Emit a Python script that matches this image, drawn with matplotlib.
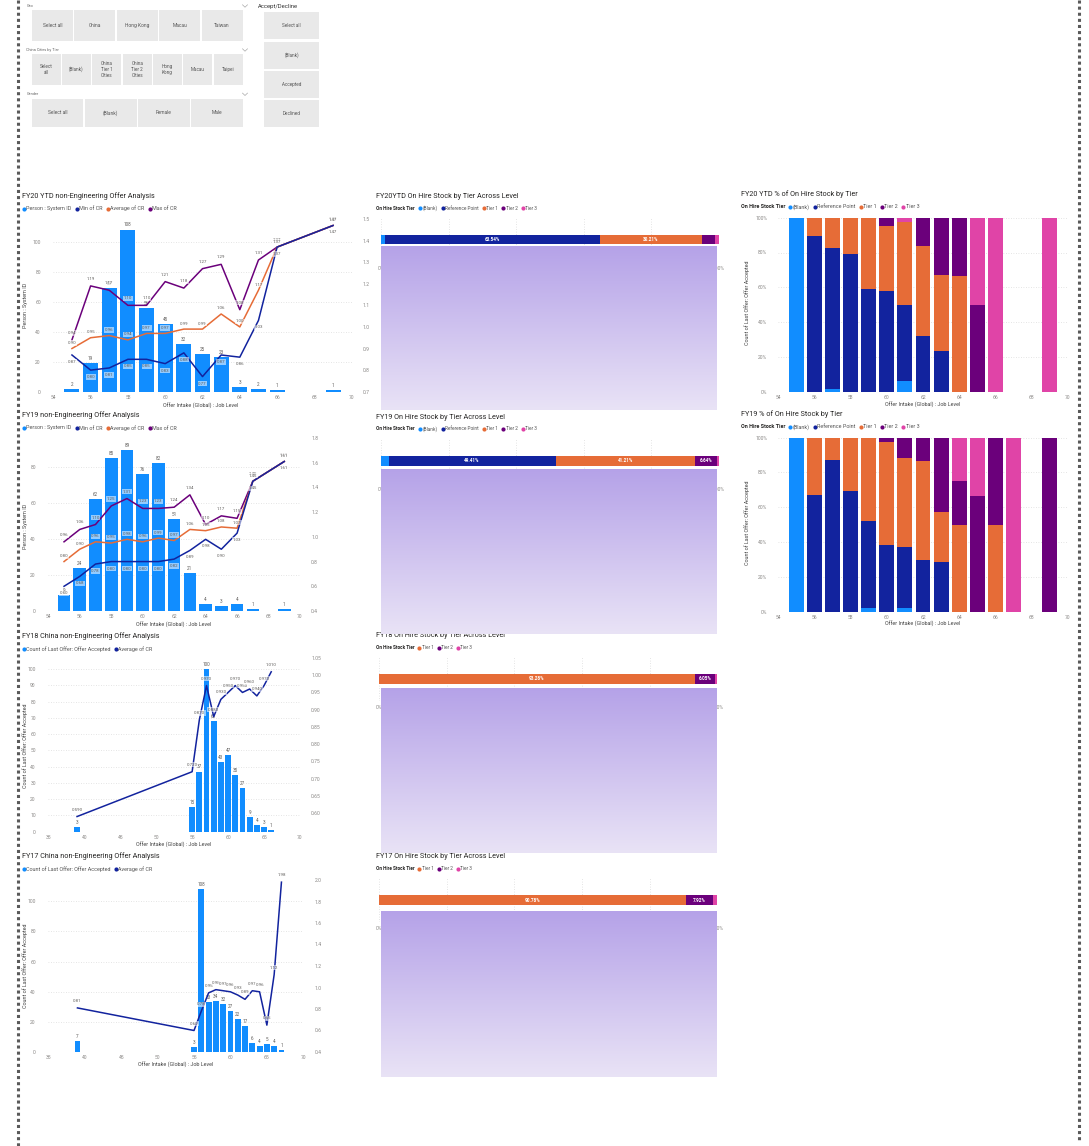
import numpy as np
import matplotlib
matplotlib.use("Agg")
import matplotlib.pyplot as plt
from matplotlib.patches import Rectangle

plt.rcParams['font.family'] = ['Roboto', 'DejaVu Sans']

W, H = 1089, 1146
DPI = 100

# ---------------- slicer options ----------------
geo_options = ["Select all", "China", "Hong Kong", "Macau", "Taiwan"]
city_options = ["Select\nall", "(Blank)", "China\nTier 1\nCities", "China\nTier 2\nCities",
                "Hong\nKong", "Macau", "Taipei"]
gender_options = ["Select all", "(Blank)", "Female", "Male"]
accept_options = ["Select all", "(Blank)", "Accepted", "Declined"]

# ---------------- FY20 YTD offer analysis ----------------
fy20_levels = [55, 56, 57, 58, 59, 60, 61, 62, 63, 64, 65, 66, 69]
fy20_count = [2, 19, 69, 108, 56, 45, 32, 25, 23, 3, 2, 1, 1]
fy20_min = [0.87, 0.80, 0.81, 0.85, 0.85, 0.83, 0.88, 0.77, 0.87, 0.86, 1.03, 1.37, 1.47]
fy20_avg = [0.90, 0.95, 0.96, 0.94, 0.97, 0.97, 0.99, 0.99, 1.06, 1.00, 1.17, 1.37, 1.47]
fy20_max = [0.94, 1.19, 1.17, 1.10, 1.10, 1.21, 1.18, 1.27, 1.29, 1.08, 1.31, 1.37, 1.47]

# ---------------- FY19 offer analysis ----------------
fy19_levels = [55, 56, 57, 58, 59, 60, 61, 62, 63, 64, 65, 66, 67, 69]
fy19_count = [9, 24, 62, 85, 89, 76, 82, 51, 21, 4, 3, 4, 1, 1]
fy19_min = [0.60, 0.68, 0.78, 0.80, 0.80, 0.80, 0.80, 0.82, 0.89, 0.98, 0.90, 1.03, 1.45, 1.61]
fy19_avg = [0.80, 0.90, 0.96, 0.95, 0.98, 0.96, 0.99, 0.97, 1.06, 1.05, 1.08, 1.07, 1.45, 1.61]
fy19_max = [0.96, 1.06, 1.10, 1.25, 1.31, 1.23, 1.23, 1.24, 1.34, 1.10, 1.17, 1.15, 1.45, 1.61]

# ---------------- FY18 China offer analysis ----------------
fy18_levels = [39, 55, 56, 57, 58, 59, 60, 61, 62, 63, 64, 65, 66]
fy18_count = [3, 15, 37, 100, 68, 43, 47, 35, 27, 9, 4, 3, 1]
fy18_avg = [0.59, 0.72, 0.87, 0.97, 0.88, 0.93, 0.95, 0.97, 0.95, 0.96, 0.94, 0.97, 1.01]

# ---------------- FY17 China offer analysis ----------------
fy17_levels = [39, 55, 56, 57, 58, 59, 60, 61, 62, 63, 64, 65, 66, 67]
fy17_count = [7, 3, 108, 33, 34, 32, 27, 22, 17, 6, 4, 5, 4, 1]
fy17_avg = [0.81, 0.60, 0.78, 0.95, 0.98, 0.97, 0.96, 0.93, 0.89, 0.97, 0.96, 0.65, 1.12, 1.98]

# ---------------- On hire stock tier shares (%) ----------------
tiers_all = ["(Blank)", "Reference Point", "Tier 1", "Tier 2", "Tier 3"]
tiers_short = ["Tier 1", "Tier 2", "Tier 3"]
stock_fy20 = [1.20, 63.54, 30.21, 3.85, 1.20]
stock_fy19 = [2.25, 49.41, 41.21, 6.64, 0.49]
stock_fy18 = [93.28, 6.05, 0.67]
stock_fy17 = [90.78, 7.92, 1.30]

# ---------------- % of on hire stock by tier per level ----------------
pct20_levels = [55, 56, 57, 58, 59, 60, 61, 62, 63, 64, 65, 66, 69]
pct20_blank = [100, 0, 1.4, 0, 0, 0, 6.1, 0, 0, 0, 0, 0, 0]
pct20_ref = [0, 89.5, 81.2, 78.9, 59.0, 57.9, 43.7, 32.0, 23.6, 0, 0, 0, 0]
pct20_t1 = [0, 10.5, 17.4, 21.1, 41.0, 37.5, 47.5, 51.9, 43.4, 66.7, 0, 0, 0]
pct20_t2 = [0, 0, 0, 0, 0, 4.6, 0, 16.1, 33.0, 33.3, 50, 0, 0]
pct20_t3 = [0, 0, 0, 0, 0, 0, 2.7, 0, 0, 0, 50, 100, 100]

pct19_levels = [55, 56, 57, 58, 59, 60, 61, 62, 63, 64, 65, 66, 67, 69]
pct19_blank = [100, 0, 0, 0, 1.9, 0, 1.9, 0, 0, 0, 0, 0, 0, 0]
pct19_ref = [0, 67.0, 87.2, 69.5, 50.2, 38.3, 35.1, 29.7, 28.7, 0, 0, 0, 0, 0]
pct19_t1 = [0, 33.0, 12.8, 30.5, 47.9, 59.4, 51.1, 56.9, 28.8, 50, 0, 50, 0, 0]
pct19_t2 = [0, 0, 0, 0, 0, 2.3, 11.9, 13.4, 42.5, 25, 66.7, 50, 0, 100]
pct19_t3 = [0, 0, 0, 0, 0, 0, 0, 0, 0, 25, 33.3, 0, 100, 0]

# ---------------- colours ----------------
C_BLUE = "#118DFF"
C_NAVY = "#12239E"
C_ORANGE = "#E66C37"
C_PURPLE = "#6B007B"
C_PINK = "#E044A7"
TIER_COLORS = [C_BLUE, C_NAVY, C_ORANGE, C_PURPLE, C_PINK]
TIER_SHORT_COLORS = [C_ORANGE, C_PURPLE, C_PINK]
TITLE = "#252423"
TICK = "#8a8886"
LBL = "#605E5C"
GRID = "#dcdcdc"

fig = plt.figure(figsize=(W / DPI, H / DPI), dpi=DPI)
fig.patch.set_facecolor("white")


def px_axes(x0, y0, x1, y1, **kw):
    return fig.add_axes([x0 / W, 1 - y1 / H, (x1 - x0) / W, (y1 - y0) / H], **kw)


def clean(ax):
    for s in ax.spines.values():
        s.set_visible(False)
    ax.tick_params(length=0, labelsize=3.6, colors=TICK)


def combo(box, xlim, xticks, ylim, yticks, y2lim, y2ticks, y2fmt,
          levels, counts, lines, fmt):
    ax = px_axes(*box)
    clean(ax)
    ax.set_xlim(*xlim)
    ax.set_ylim(*ylim)
    ax.set_xticks(xticks)
    ax.set_yticks(yticks)
    ax.tick_params(axis="y", pad=9)
    ax.tick_params(axis="x", pad=2.5)
    ax.grid(axis="y", color=GRID, linestyle=(0, (1, 2)), linewidth=0.6)
    ax.set_axisbelow(True)
    ax.bar(levels, counts, width=0.8, color=C_BLUE, zorder=2)
    for x, c in zip(levels, counts):
        ax.text(x, c + ylim[1] * 0.012, str(c), ha="center", va="bottom",
                fontsize=3.3, color=LBL, zorder=3)
    ax2 = ax.twinx()
    clean(ax2)
    ax2.set_ylim(*y2lim)
    ax2.set_yticks(y2ticks)
    ax2.set_yticklabels([y2fmt.format(v) for v in y2ticks])
    ax2.tick_params(axis="y", pad=8)
    for vals, col, dy in lines:
        ax2.plot(levels, vals, color=col, lw=1.1, zorder=3)
        for x, v in zip(levels, vals):
            ax2.annotate(fmt.format(v), (x, v), xytext=(0, dy), textcoords="offset points",
                         ha="center", va="center", fontsize=3.2, color=LBL, zorder=4,
                         bbox=dict(boxstyle="square,pad=0.15", fc="white", ec="none", alpha=0.55))
    return ax, ax2


def pct_chart(box, levels, stacks):
    ax = px_axes(*box)
    clean(ax)
    ax.set_xlim(54, 70)
    ax.set_ylim(0, 100)
    ax.set_xticks(range(54, 71, 2))
    ax.set_yticks(range(0, 101, 20))
    ax.set_yticklabels([f"{v}%" for v in range(0, 101, 20)])
    ax.tick_params(axis="y", pad=8)
    ax.tick_params(axis="x", pad=2.5)
    ax.grid(axis="y", color=GRID, linestyle=(0, (1, 2)), linewidth=0.6)
    ax.set_axisbelow(True)
    bottom = np.zeros(len(levels))
    for arr, col in zip(stacks, TIER_COLORS):
        arr = np.array(arr, dtype=float)
        ax.bar(levels, arr, bottom=bottom, width=0.82, color=col, zorder=2)
        bottom += arr
    return ax


def stock_bar(x0, x1, yc, values, colors):
    ax = px_axes(x0, yc - 22, x1, yc + 22)
    clean(ax)
    ax.set_facecolor("none")
    ax.set_xlim(0, 100)
    ax.set_ylim(44, 0)
    ax.set_yticks([])
    ax.set_xticks(range(0, 101, 20))
    ax.set_xticklabels([f"{v}%" for v in range(0, 101, 20)])
    ax.tick_params(axis="x", pad=3)
    ax.grid(axis="x", color=GRID, linestyle=(0, (1, 2)), linewidth=0.6)
    ax.set_axisbelow(True)
    left = 0.0
    for v, col in zip(values, colors):
        ax.barh(22, v, left=left, height=9.4, color=col, zorder=2)
        if v >= 5:
            ax.text(left + v / 2, 22, f"{v:.2f}%", ha="center", va="center",
                    fontsize=3.3, color="white", fontweight="bold", zorder=3)
        left += v
    return ax


# ---------------- left combo charts ----------------
combo((53.3, 219, 351.7, 391.7), (54, 70), range(54, 71, 2), (0, 115), range(0, 101, 20),
      (0.7, 1.5), np.arange(0.7, 1.51, 0.1), "{:.1f}",
      fy20_levels, fy20_count,
      [(fy20_max, C_PURPLE, 5), (fy20_avg, C_ORANGE, 4), (fy20_min, C_NAVY, -5)], "{:.2f}")

combo((48.3, 438, 300, 611), (54, 70), range(54, 71, 2), (0, 95.9), range(0, 81, 20),
      (0.4, 1.8), np.arange(0.4, 1.81, 0.2), "{:.1f}",
      fy19_levels, fy19_count,
      [(fy19_max, C_PURPLE, 5), (fy19_avg, C_ORANGE, 4), (fy19_min, C_NAVY, -5)], "{:.2f}")

combo((48.3, 653, 300, 831.7), (35, 70), range(35, 71, 5), (0, 110), range(0, 101, 10),
      (0.546, 1.0645), np.arange(0.60, 1.051, 0.05), "{:.2f}",
      fy18_levels, fy18_count, [(fy18_avg, C_NAVY, 5)], "{:.3f}")

combo((48.3, 880, 303.3, 1052), (35, 70), range(35, 71, 5), (0, 114.1), range(0, 101, 20),
      (0.4, 2.0), np.arange(0.4, 2.01, 0.2), "{:.1f}",
      fy17_levels, fy17_count, [(fy17_avg, C_NAVY, 5)], "{:.2f}")

# ---------------- right % charts ----------------
pct_chart((778.3, 217.7, 1067.7, 391.7), pct20_levels,
          [pct20_blank, pct20_ref, pct20_t1, pct20_t2, pct20_t3])
pct_chart((778.3, 437.7, 1067.7, 611.7), pct19_levels,
          [pct19_blank, pct19_ref, pct19_t1, pct19_t2, pct19_t3])

# ---------------- middle stacked bars ----------------
stock_bar(381, 719, 239.6, stock_fy20, TIER_COLORS)
stock_bar(381, 719, 460.8, stock_fy19, TIER_COLORS)
stock_bar(379, 717.3, 679.0, stock_fy18, TIER_SHORT_COLORS)
stock_bar(379, 717.3, 900.0, stock_fy17, TIER_SHORT_COLORS)

# ---------------- overlay (texts, slicers, gradients, borders) ----------------
ov = fig.add_axes([0, 0, 1, 1], zorder=10)
ov.patch.set_visible(False)
ov.axis("off")
renderer = fig.canvas.get_renderer()

# borders
ov.plot([18, 18], [0, H], color="#5a5a5a", lw=2.2, linestyle=(0, (1, 1)))
ov.plot([1079, 1079], [0, 1142], color="#5a5a5a", lw=2.2, linestyle=(0, (1, 1)))


def chevron(x, y):
    ov.plot([x - 2.5, x, x + 2.5], [y - 1.2, y + 1.2, y - 1.2], color="#aaaaaa", lw=0.5)


def button_row(x0, x1, y0, y1, labels, gap=1.3, fs=3.5):
    n = len(labels)
    w = (x1 - x0 - gap * (n - 1)) / n
    for i, lab in enumerate(labels):
        bx = x0 + i * (w + gap)
        ov.add_patch(Rectangle((bx, y0), w, y1 - y0, facecolor="#e9e9e9", edgecolor="none"))
        ov.text(bx + w / 2, (y0 + y1) / 2, lab, ha="center", va="center", fontsize=fs,
                color="#555555", linespacing=1.25)


ov.text(26.5, 6, "Geo", fontsize=2.8, color="#666666", va="center")
chevron(245, 6)
button_row(31.7, 242.7, 10, 41.3, geo_options)
ov.text(26.5, 50, "China Cities by Tier", fontsize=2.8, color="#666666", va="center")
chevron(245, 50)
button_row(31.7, 242.7, 54, 85, city_options, fs=3.3)
ov.text(26.5, 94.3, "Gender", fontsize=2.8, color="#666666", va="center")
chevron(245, 94.3)
button_row(31.7, 242.7, 99, 126.7, gender_options)

ov.text(258.3, 6.7, "Accept/Decline", fontsize=4.2, color="#333333", va="center")
acc_rows = [(12, 39.3), (41.7, 69), (71, 98.3), (100, 127.3)]
for (a, b), lab in zip(acc_rows, accept_options):
    ov.add_patch(Rectangle((264.3, a), 55, b - a, facecolor="#e9e9e9", edgecolor="none"))
    ov.text(291.8, (a + b) / 2, lab, ha="center", va="center", fontsize=3.3, color="#555555")


def legend_row(x, y, items, title=None, fs=3.9):
    cx = x
    if title:
        t = ov.text(cx, y, title, fontsize=fs, fontweight="bold", color=TITLE, va="center")
        cx += t.get_window_extent(renderer).width + 3
    for lab, col in items:
        ov.plot([cx + 2], [y], "o", ms=3.0, color=col, mec="none")
        t = ov.text(cx + 4.5, y, lab, fontsize=fs, color="#555555", va="center")
        cx += 4.5 + t.get_window_extent(renderer).width + 3


def title(x, y, s):
    ov.text(x, y, s, fontsize=5.2, color=TITLE, va="center")


# left titles & legends
title(22, 196, "FY20 YTD non-Engineering Offer Analysis")
legend_row(22, 208.5, [("Person : System ID", C_BLUE), ("Min of CR", C_NAVY),
                        ("Average of CR", C_ORANGE), ("Max of CR", C_PURPLE)])
title(22, 415, "FY19 non-Engineering Offer Analysis")
legend_row(22, 428, [("Person : System ID", C_BLUE), ("Min of CR", C_NAVY),
                      ("Average of CR", C_ORANGE), ("Max of CR", C_PURPLE)])
title(22, 636.5, "FY18 China non-Engineering Offer Analysis")
legend_row(22, 649, [("Count of Last Offer: Offer Accepted", C_BLUE), ("Average of CR", C_NAVY)])
title(22, 856.5, "FY17 China non-Engineering Offer Analysis")
legend_row(22, 869, [("Count of Last Offer: Offer Accepted", C_BLUE), ("Average of CR", C_NAVY)])

# axis titles of left charts
for (xx, yy) in [(201, 406), (174, 625), (174, 845.5), (176, 1065)]:
    ov.text(xx, yy, "Offer Intake (Global) : Job Level", fontsize=3.9, color="#444444",
            ha="center", va="center")
ov.text(26, 305, "Person : System ID", fontsize=3.9, color="#444444", rotation=90,
        ha="center", va="center")
ov.text(26, 526, "Person : System ID", fontsize=3.9, color="#444444", rotation=90,
        ha="center", va="center")
ov.text(25, 746, "Count of Last Offer: Offer Accepted", fontsize=3.9, color="#444444",
        rotation=90, ha="center", va="center")
ov.text(25, 966, "Count of Last Offer: Offer Accepted", fontsize=3.9, color="#444444",
        rotation=90, ha="center", va="center")

# right charts titles
title(741, 194, "FY20 YTD % of On Hire Stock by Tier")
legend_row(741, 207, list(zip(tiers_all, TIER_COLORS)), title="On Hire Stock Tier")
title(741, 414, "FY19 % of On Hire Stock by Tier")
legend_row(741, 427, list(zip(tiers_all, TIER_COLORS)), title="On Hire Stock Tier")
for yy in (405, 624):
    ov.text(923, yy, "Offer Intake (Global) : Job Level", fontsize=3.9, color="#444444",
            ha="center", va="center")
for yc in (303, 523):
    ov.text(747, yc, "Count of Last Offer: Offer Accepted", fontsize=3.9, color="#444444",
            rotation=90, ha="center", va="center")

# middle titles
title(376.5, 196, "FY20YTD On Hire Stock by Tier Across Level")
legend_row(376.5, 208, list(zip(tiers_all, TIER_COLORS)), title="On Hire Stock Tier", fs=3.4)
title(376.5, 417.5, "FY19 On Hire Stock by Tier Across Level")
legend_row(376.5, 429, list(zip(tiers_all, TIER_COLORS)), title="On Hire Stock Tier", fs=3.4)
title(375.5, 635.5, "FY18 On Hire Stock by Tier Across Level")
legend_row(375.5, 647.5, list(zip(tiers_short, TIER_SHORT_COLORS)), title="On Hire Stock Tier", fs=3.4)
title(375.5, 856, "FY17 On Hire Stock by Tier Across Level")
legend_row(375.5, 868.5, list(zip(tiers_short, TIER_SHORT_COLORS)), title="On Hire Stock Tier", fs=3.4)

# lavender gradient panels
top_c = np.array([181, 162, 232]) / 255.0
bot_c = np.array([233, 227, 246]) / 255.0
t = np.linspace(0, 1, 256)[:, None]
grad = (top_c[None, :] * (1 - t) + bot_c[None, :] * t)[:, None, :]
for (g0, g1) in [(246, 410), (469, 634), (688, 853), (911, 1077)]:
    ov.imshow(grad, extent=(381, 717, g1, g0), aspect="auto", interpolation="bilinear", zorder=5)

ov.set_xlim(0, W)
ov.set_ylim(H, 0)

fig.savefig("out.png", dpi=DPI, facecolor="white")
